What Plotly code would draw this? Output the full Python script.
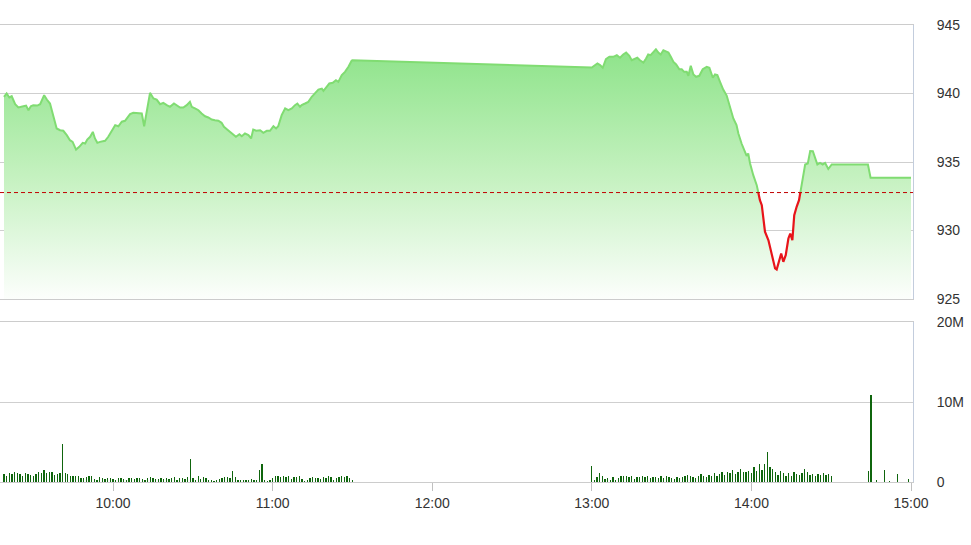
import numpy as np
import pandas as pd
import plotly.graph_objects as go

BASE = pd.Timestamp("2024-01-01 09:00:00")

# ---- price series: minutes after 09:00 and index value ----
price_min = [
    19.0, 20.0, 21.0, 21.9, 23.2, 24.4, 26.3, 27.3, 28.2, 29.1, 30.0, 31.5, 32.6, 33.6, 34.1,
    35.1, 36.3, 37.6, 38.8, 40.1, 41.3, 42.6, 43.8, 44.8, 46.1, 47.3, 48.6, 49.5, 50.3, 51.4,
    52.4, 53.2, 54.1, 55.1, 57.0, 58.2, 59.5, 60.8, 62.0, 63.3, 64.5, 65.5, 66.4, 67.6, 69.5,
    70.8, 71.7, 72.4, 73.3, 73.9, 75.2, 76.4, 77.7, 78.9, 80.2, 81.4, 82.9, 83.9, 85.2, 86.4,
    87.7, 88.9, 89.6, 90.8, 92.1, 93.3, 94.6, 95.8, 97.1, 98.3, 99.6, 100.8, 101.7, 102.9, 104.0,
    105.2, 106.2, 107.5, 108.4, 109.6, 110.9, 111.9, 112.7, 113.8, 115.3, 116.5, 117.8, 119.0, 120.3, 121.3,
    122.1, 123.4, 124.7, 125.9, 127.2, 128.4, 129.3, 130.3, 130.9, 132.2, 133.4, 134.7, 135.9, 137.2, 138.5,
    139.1, 140.3, 141.3, 142.6, 143.8, 144.7, 146.0, 147.2, 148.5, 149.7, 150.0,
    240.0, 242.1, 243.1, 244.1, 245.3, 246.6, 248.1, 249.4, 250.6, 251.8, 252.9, 254.1, 255.0, 256.2, 257.1,
    258.1, 259.4, 260.4, 261.2, 262.1, 263.1, 264.1, 265.0, 265.9, 266.9, 267.9, 268.8, 269.7, 270.7, 271.7,
    272.9, 273.8, 274.7, 275.7, 276.3, 277.2, 278.2, 279.2, 280.4, 281.7, 283.2, 284.2, 285.5, 286.3, 287.2,
    288.2, 289.4, 290.7, 291.9, 293.2, 294.4, 295.1, 296.3, 297.6, 298.2, 298.8, 299.5, 300.7, 302.0, 303.2,
    303.9, 305.1, 306.4, 307.6, 308.9, 309.5, 310.4, 311.2, 312.0, 312.9, 313.9, 314.6, 315.4, 316.1, 317.0,
    317.9, 319.5, 320.2, 321.2, 322.1, 323.1, 324.0, 324.8, 325.8, 326.8, 327.7, 328.9, 330.2, 343.8, 344.8,
    360.0,
]
price_val = [
    939.76, 940.00, 939.71, 939.80, 939.22, 938.98, 939.07, 939.12, 938.78, 939.07, 939.15, 939.12, 939.22, 939.76, 939.88,
    939.56, 939.27, 938.32, 937.45, 937.32, 937.28, 936.96, 936.59, 936.47, 935.91, 936.11, 936.40, 936.35, 936.64, 936.84,
    937.20, 936.72, 936.40, 936.47, 936.55, 936.84, 937.32, 937.69, 937.61, 937.94, 938.01, 938.30, 938.49, 938.59, 938.59,
    938.54, 937.61, 938.42, 939.64, 940.05, 939.64, 939.56, 939.22, 939.32, 939.15, 939.03, 939.27, 939.12, 938.98, 938.98,
    939.15, 939.39, 939.03, 938.91, 938.78, 938.54, 938.34, 938.25, 938.10, 938.05, 938.01, 937.86, 937.57, 937.37, 937.20,
    937.03, 936.84, 937.03, 936.88, 937.08, 936.96, 936.72, 937.37, 937.28, 937.32, 937.13, 937.28, 937.28, 937.61, 937.45,
    937.61, 938.42, 938.91, 938.78, 938.91, 939.15, 939.27, 939.03, 939.15, 939.27, 939.39, 939.76, 940.05, 940.29, 940.36,
    940.20, 940.49, 940.73, 940.78, 940.97, 940.85, 941.34, 941.58, 941.95, 942.39, 942.43,
    941.90, 942.19, 942.07, 941.88, 942.50, 942.68, 942.68, 942.80, 942.61, 942.85, 942.99, 942.75, 942.43, 942.50, 942.61,
    942.43, 942.26, 942.55, 942.85, 942.80, 942.99, 943.23, 942.99, 942.85, 943.16, 943.09, 942.99, 942.68, 942.31, 942.12,
    941.77, 941.77, 941.58, 941.58, 941.29, 942.02, 941.39, 941.22, 941.29, 941.77, 941.95, 941.88, 941.15, 941.39, 941.34,
    940.85, 940.29, 939.85, 939.12, 938.18, 937.69, 937.08, 936.35, 935.74, 935.45, 935.62, 934.89, 934.04, 933.31, 932.21,
    931.85, 929.91, 929.29, 928.32, 927.23, 927.15, 927.76, 928.32, 927.72, 928.20, 929.42, 929.78, 929.29, 931.12, 931.73,
    932.21, 934.04, 934.82, 934.89, 935.80, 935.79, 935.26, 934.82, 934.93, 934.82, 934.93, 934.49, 934.82, 934.82, 933.85,
    933.85,
]
ref_price = 932.77

# ---- volume (millions), one bar per minute ----
vol_am_start = 19   # 09:19
vol_am = [
    1.0, 0.7, 1.1, 1.0, 1.2, 1.1, 1.0, 0.8, 1.1, 1.0, 0.9, 0.7, 1.0, 1.2, 1.1, 1.5, 1.1, 1.2, 1.2, 0.9, 1.0, 1.1,
    4.8,
    1.1, 1.0, 0.8, 0.8, 0.8, 0.8, 0.5, 0.5, 0.6,
    0.7, 0.8, 0.4, 0.3, 0.6, 0.5, 0.4, 0.5, 0.5, 0.4,
    0.3, 0.5, 0.5, 0.4, 0.3, 0.5, 0.5, 0.4, 0.5, 0.5,
    0.4, 0.3, 0.5, 0.6, 0.5, 0.4, 0.4, 0.5, 0.4, 0.5,
    0.4, 0.5, 0.6, 0.3, 0.5, 0.5, 0.4, 0.6,
    2.9, 0.5,
    0.3, 0.7, 0.4, 0.6, 0.5, 0.3, 0.3, 0.1, 0.2, 0.4, 0.5, 0.6, 0.6, 0.5,
    1.4,
    0.6, 0.2, 0.3, 0.2, 0.2, 0.3, 0.4, 0.2, 0.3,
    1.5, 2.2,
    0.2, 0.1, 0.3, 0.5, 0.8, 0.7, 0.6, 0.7, 0.6, 0.7, 0.4, 0.6, 0.6, 0.7, 0.4, 0.1, 0.3,
    0.5, 0.6, 0.5, 0.5, 0.4, 0.6, 0.5, 0.7, 0.6, 0.3, 0.5, 0.6, 0.7, 0.6, 0.8, 0.5, 0.3,
]
vol_pm_start = 240  # 13:00
vol_pm = [
    2.0, 0.3, 0.6, 1.1, 0.7, 0.4, 0.5, 0.3, 0.6, 0.3, 0.5,
    0.7, 0.7, 0.8, 0.6, 0.8, 0.4, 0.6, 0.6, 0.7, 0.6,
    0.7, 0.5, 0.6, 0.6, 0.5, 0.7, 0.5, 0.7, 0.6, 0.5,
    0.4, 0.6, 0.5, 0.6, 0.8, 0.9, 0.8, 0.6, 0.5, 0.7,
    1.0, 0.8, 0.6, 0.9, 0.8, 1.1, 0.7, 1.0, 1.2, 0.9,
    1.3, 1.1, 1.5, 1.0, 1.3, 1.6, 1.3, 1.2, 1.4, 1.1,
    1.9, 1.4, 2.2, 1.5, 2.3, 3.7, 1.9, 1.6, 1.2, 0.9,
    1.4, 1.1, 0.8, 1.1, 0.8, 1.2, 1.0, 0.9, 1.1, 1.6,
    1.2, 0.9, 1.0, 0.8, 1.0, 0.9, 1.1, 0.9, 1.0, 0.8,
]
vol_close_min = [344, 345, 347, 350, 352, 355, 359]
vol_close = [1.4, 10.9, 0.3, 1.5, 0.15, 1.0, 0.4]

y_ticks_price = [925, 930, 935, 940, 945]
vol_tickvals = [0, 10_000_000, 20_000_000]
vol_ticktext = ["0", "10M", "20M"]


def ts(m):
    return None if m is None else BASE + pd.Timedelta(minutes=m)


# split the line into segments above / below the reference
gx, gy, rx, ry = [], [], [], []
for i in range(len(price_min)):
    if i > 0:
        a = price_val[i - 1] - ref_price
        b = price_val[i] - ref_price
        if a * b < 0:
            tc = price_min[i - 1] + (price_min[i] - price_min[i - 1]) * a / (a - b)
            gx.append(tc); gy.append(ref_price)
            rx.append(tc); ry.append(ref_price)
            if b < 0:
                gx.append(None); gy.append(None)
            else:
                rx.append(None); ry.append(None)
    if price_val[i] >= ref_price:
        gx.append(price_min[i]); gy.append(price_val[i])
    else:
        rx.append(price_min[i]); ry.append(price_val[i])

vol_min = ([vol_am_start + k for k in range(len(vol_am))]
           + [vol_pm_start + k for k in range(len(vol_pm))]
           + vol_close_min)
vol_vals = [v * 1e6 for v in (vol_am + vol_pm + vol_close)]

fig = go.Figure()

fig.add_trace(go.Scatter(
    x=[ts(m) for m in price_min], y=price_val, mode="lines",
    line=dict(width=0, color="rgba(0,0,0,0)"), fill="tozeroy",
    fillgradient=dict(type="vertical", start=924.5, stop=943.5,
                      colorscale=[[0, "rgba(255,255,255,1)"], [0.5, "#c4f1bf"], [1, "#8ce388"]]),
    hoverinfo="skip", showlegend=False, xaxis="x", yaxis="y"))

fig.add_trace(go.Scatter(
    x=[ts(m) for m in gx], y=gy, mode="lines", connectgaps=False,
    line=dict(width=2, color="#80dc72"), showlegend=False, xaxis="x", yaxis="y"))
fig.add_trace(go.Scatter(
    x=[ts(m) for m in rx], y=ry, mode="lines", connectgaps=False,
    line=dict(width=2.2, color="#e8141a"), showlegend=False, xaxis="x", yaxis="y"))

fig.add_trace(go.Bar(
    x=[ts(m) for m in vol_min], y=vol_vals, marker=dict(color="#0f650d", line=dict(width=0)),
    width=30000, showlegend=False, xaxis="x2", yaxis="y2"))

x_range = [ts(17.5), ts(360.75)]
font = dict(family="Liberation Sans, Arial, sans-serif", size=14, color="#333333")

fig.update_layout(
    width=971, height=545,
    margin=dict(l=0, r=58, t=25, b=63),
    paper_bgcolor="white", plot_bgcolor="white",
    font=font, bargap=0,
    xaxis=dict(domain=[0, 1], anchor="y", type="date", range=x_range, showticklabels=False,
               showgrid=False, zeroline=False, showline=True, mirror=True,
               linecolor="#cccccc", linewidth=1, ticks=""),
    yaxis=dict(domain=[0.4004, 1], anchor="x", side="right", range=[925, 945],
               tickvals=y_ticks_price, showgrid=True, gridcolor="#cfcfcf", gridwidth=1,
               zeroline=False, showline=True, linecolor="#c3cddd", linewidth=1,
               ticks="", ticklabelstandoff=20),
    xaxis2=dict(domain=[0, 1], anchor="y2", type="date", range=x_range,
                tickformat="%H:%M", dtick=3600000, tick0=ts(60),
                showgrid=False, zeroline=False, showline=True, mirror=True,
                linecolor="#cccccc", linewidth=1,
                ticks="outside", ticklen=8, tickcolor="#c0c0c0"),
    yaxis2=dict(domain=[0, 0.3501], anchor="x2", side="right", range=[0, 20_000_000],
                tickvals=vol_tickvals, ticktext=vol_ticktext, showgrid=True,
                gridcolor="#cfcfcf", zeroline=False, showline=True, linecolor="#c3cddd",
                linewidth=1, ticks="", ticklabelstandoff=20),
    shapes=[dict(type="line", xref="x domain", yref="y", x0=0, x1=1, y0=ref_price, y1=ref_price,
                 line=dict(color="#c00000", width=1, dash="4px,3px"), layer="above")],
)

fig.write_html("out.html", config={"displayModeBar": False, "staticPlot": True},
               post_script="document.body.style.margin='0';document.body.style.overflow='hidden';")
